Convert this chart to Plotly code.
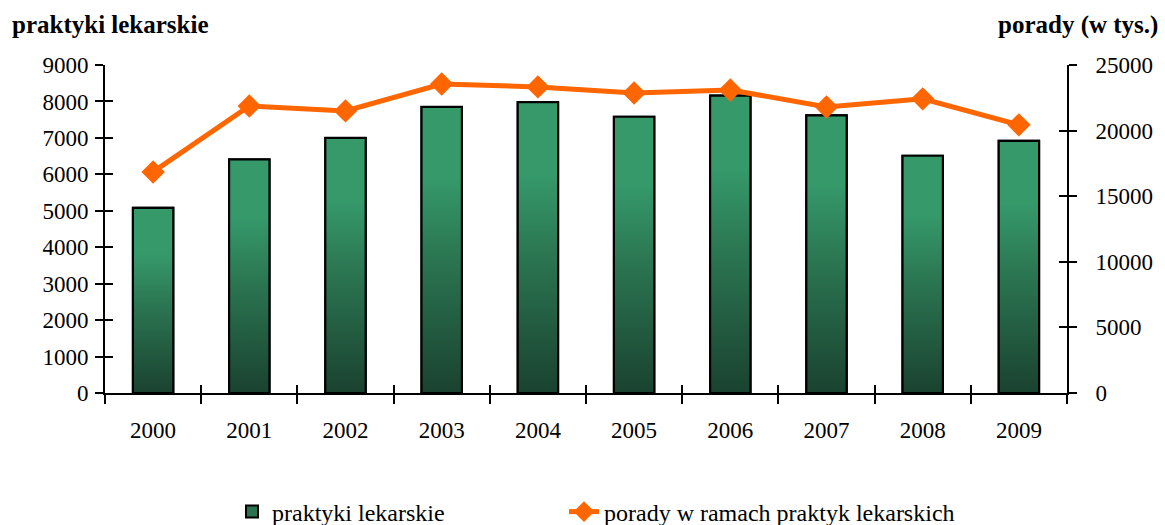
import plotly.graph_objects as go

years = [2000, 2001, 2002, 2003, 2004, 2005, 2006, 2007, 2008, 2009]
year_labels = [str(y) for y in years]
praktyki = [5080, 6410, 7000, 7850, 7980, 7580, 8160, 7620, 6510, 6920]
porady = [16850, 21880, 21500, 23550, 23330, 22870, 23100, 21800, 22420, 20440]

left_ticks = [0, 1000, 2000, 3000, 4000, 5000, 6000, 7000, 8000, 9000]
right_ticks = [0, 5000, 10000, 15000, 20000, 25000]
right_labels = [str(v) for v in right_ticks]
left_labels = [str(v) for v in left_ticks]

FONT = "Liberation Serif"
BAR_W = 0.42
DARK = "#1a4230"
MID = "#2a7350"
LIGHT = "#35996a"
ORANGE = "#ff6600"

boundaries = [y - 0.5 for y in years] + [years[-1] + 0.5]
xr = [years[0] - 0.5, years[-1] + 0.5]

fig = go.Figure()

fig.add_trace(go.Bar(
    x=years, y=praktyki, width=BAR_W, name="praktyki lekarskie",
    marker=dict(color=MID, line=dict(color="black", width=2)),
    xaxis="x", yaxis="y", legend="legend",
))

for yr, v in zip(years, praktyki):
    x0, x1 = yr - BAR_W / 2, yr + BAR_W / 2
    fig.add_trace(go.Scatter(
        x=[x0, x0, x1, x1, x0], y=[0, v, v, 0, 0],
        mode="lines", fill="toself",
        fillgradient=dict(type="vertical", colorscale=[[0, DARK], [0.45, MID], [0.75, LIGHT], [1, LIGHT]]),
        line=dict(color="black", width=2.2),
        showlegend=False, hoverinfo="skip",
        xaxis="x", yaxis="y",
    ))

fig.add_trace(go.Scatter(
    x=years, y=porady, name="porady w ramach praktyk lekarskich",
    mode="lines+markers",
    line=dict(color=ORANGE, width=5),
    marker=dict(symbol="diamond", size=18, color=ORANGE),
    xaxis="x2", yaxis="y2", legend="legend2",
))

fig.add_trace(go.Scatter(x=[None], y=[None], xaxis="x2", yaxis="y3", showlegend=False, hoverinfo="skip"))
fig.add_trace(go.Scatter(x=[None], y=[None], xaxis="x2", yaxis="y4", showlegend=False, hoverinfo="skip"))

tickfont = dict(family=FONT, size=23, color="black")
legfont = dict(family=FONT, size=24, color="black")

fig.update_layout(
    width=1165, height=525,
    margin=dict(l=105, r=98, t=65, b=132, autoexpand=False),
    paper_bgcolor="white", plot_bgcolor="white",
    font=dict(family=FONT, size=23, color="black"),
    showlegend=True,
    legend=dict(orientation="h", x=232 / 1165, xanchor="left", xref="container",
                y=13 / 525, yanchor="middle", yref="container", font=legfont,
                bgcolor="rgba(0,0,0,0)"),
    legend2=dict(orientation="h", x=564 / 1165, xanchor="left", xref="container",
                 y=13 / 525, yanchor="middle", yref="container", font=legfont,
                 bgcolor="rgba(0,0,0,0)"),
    xaxis=dict(range=xr, tickmode="array", tickvals=years, ticktext=year_labels,
               ticks="", showline=True, linecolor="black", linewidth=2, automargin=False,
               showgrid=False, zeroline=False, tickfont=tickfont, ticklabelstandoff=15,
               minor=dict(tickmode="array", tickvals=boundaries, ticks="outside",
                          ticklen=9, tickwidth=2, tickcolor="black")),
    xaxis2=dict(range=xr, overlaying="x", anchor="y", side="bottom", automargin=False,
                tickmode="array", tickvals=boundaries, ticks="inside", ticklen=8,
                tickwidth=2, tickcolor="black", showticklabels=False,
                showline=False, showgrid=False, zeroline=False),
    yaxis=dict(range=[0, 9000], tickmode="array", tickvals=left_ticks, ticktext=left_labels,
               ticks="outside", automargin=False,
               ticklen=8, tickwidth=2, tickcolor="black", showline=True,
               linecolor="black", linewidth=2, showgrid=False, zeroline=False,
               tickfont=tickfont, ticklabelstandoff=2),
    yaxis2=dict(range=[0, 25000], tickmode="array", tickvals=right_ticks, ticktext=right_labels,
                overlaying="y", side="right", anchor="x2", ticks="outside", automargin=False,
                ticklen=8, tickwidth=2, tickcolor="black", showline=True,
                linecolor="black", linewidth=2, showgrid=False, zeroline=False,
                tickfont=tickfont, ticklabelstandoff=14),
    yaxis3=dict(range=[0, 9000], tickmode="array", tickvals=left_ticks,
                overlaying="y", side="left", anchor="x2", ticks="inside", automargin=False,
                ticklen=8, tickwidth=2, tickcolor="black", showticklabels=False,
                showline=False, showgrid=False, zeroline=False),
    yaxis4=dict(range=[0, 25000], tickmode="array", tickvals=right_ticks,
                overlaying="y", side="right", anchor="x2", ticks="inside", automargin=False,
                ticklen=8, tickwidth=2, tickcolor="black", showticklabels=False,
                showline=False, showgrid=False, zeroline=False),
    annotations=[
        dict(text="<b>praktyki lekarskie</b>", xref="paper", yref="paper",
             x=-0.0988, y=1.122, xanchor="left", yanchor="middle", showarrow=False,
             font=dict(family=FONT, size=25, color="black")),
        dict(text="<b>porady (w tys.)</b>", xref="paper", yref="paper",
             x=1.0967, y=1.122, xanchor="right", yanchor="middle", showarrow=False,
             font=dict(family=FONT, size=25, color="black")),
    ],
)

fig.write_html("out.html", config={"displayModeBar": False},
               post_script="document.body.style.margin='0';document.body.style.padding='0';")
